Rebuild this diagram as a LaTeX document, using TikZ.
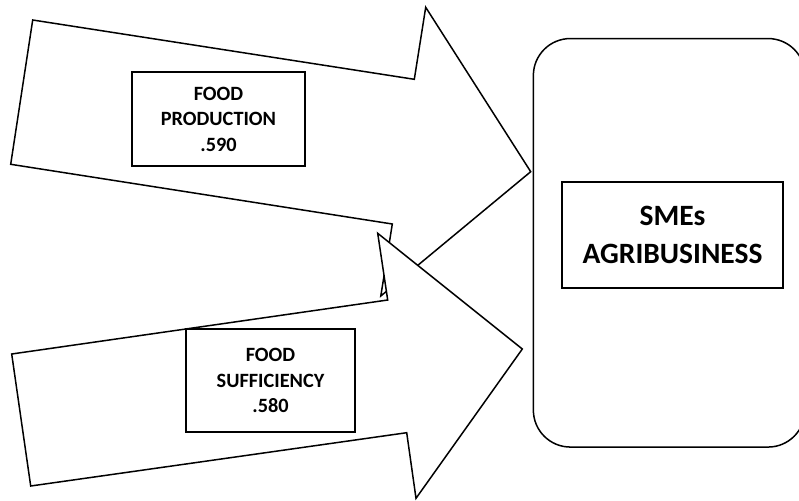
\documentclass[tikz,border=0pt]{standalone}
\usepackage{fontspec}
\setmainfont{Carlito}
\usetikzlibrary{positioning}
\tikzset{
  barrow/.style={draw, fill=white, line width=1.5pt, line join=miter},
  tbox/.style={draw, fill=white, line width=1.8pt, align=center, inner sep=0pt,
               font=\fontsize{20.3}{25.5}\selectfont\bfseries},
  rbox/.style={draw, rounded corners=37pt, line width=1.5pt, inner sep=0pt},
}

\begin{document}
\begin{tikzpicture}[x=1pt, y=-1pt]
\clip (0,0) rectangle (799,500);
% two big block arrows, the lower one laid over the upper one
\draw[barrow] (32.7,20) -- (414.3,79.3) -- (425.7,7.3) -- (530.7,171.7)
  -- (380.8,296) -- (392.3,224) -- (10.7,164.3) -- cycle;
\draw[barrow] (11.7,354) -- (387.7,300) -- (377.7,233.3) -- (522.3,349)
  -- (416,498.3) -- (406.7,432.7) -- (30.7,486) -- cycle;
\node[tbox, minimum width=173pt, minimum height=94pt] (prod) at (218.5,119) {FOOD\\PRODUCTION\\.590};
\node[tbox, minimum width=169pt, minimum height=102.4pt] (suff) at (270.5,380.5) {FOOD\\SUFFICIENCY\\.580};
% target block, cut by the right edge
\node[rbox, minimum width=271.7pt, minimum height=408.5pt] (sme) at (669.2,242.8) {};
\node[tbox, minimum width=221.6pt, minimum height=106.6pt, font=\fontsize{29.5}{38}\selectfont\bfseries]
  (agri) at (672.5,235) {SMEs\\AGRIBUSINESS};
\end{tikzpicture}
\end{document}
